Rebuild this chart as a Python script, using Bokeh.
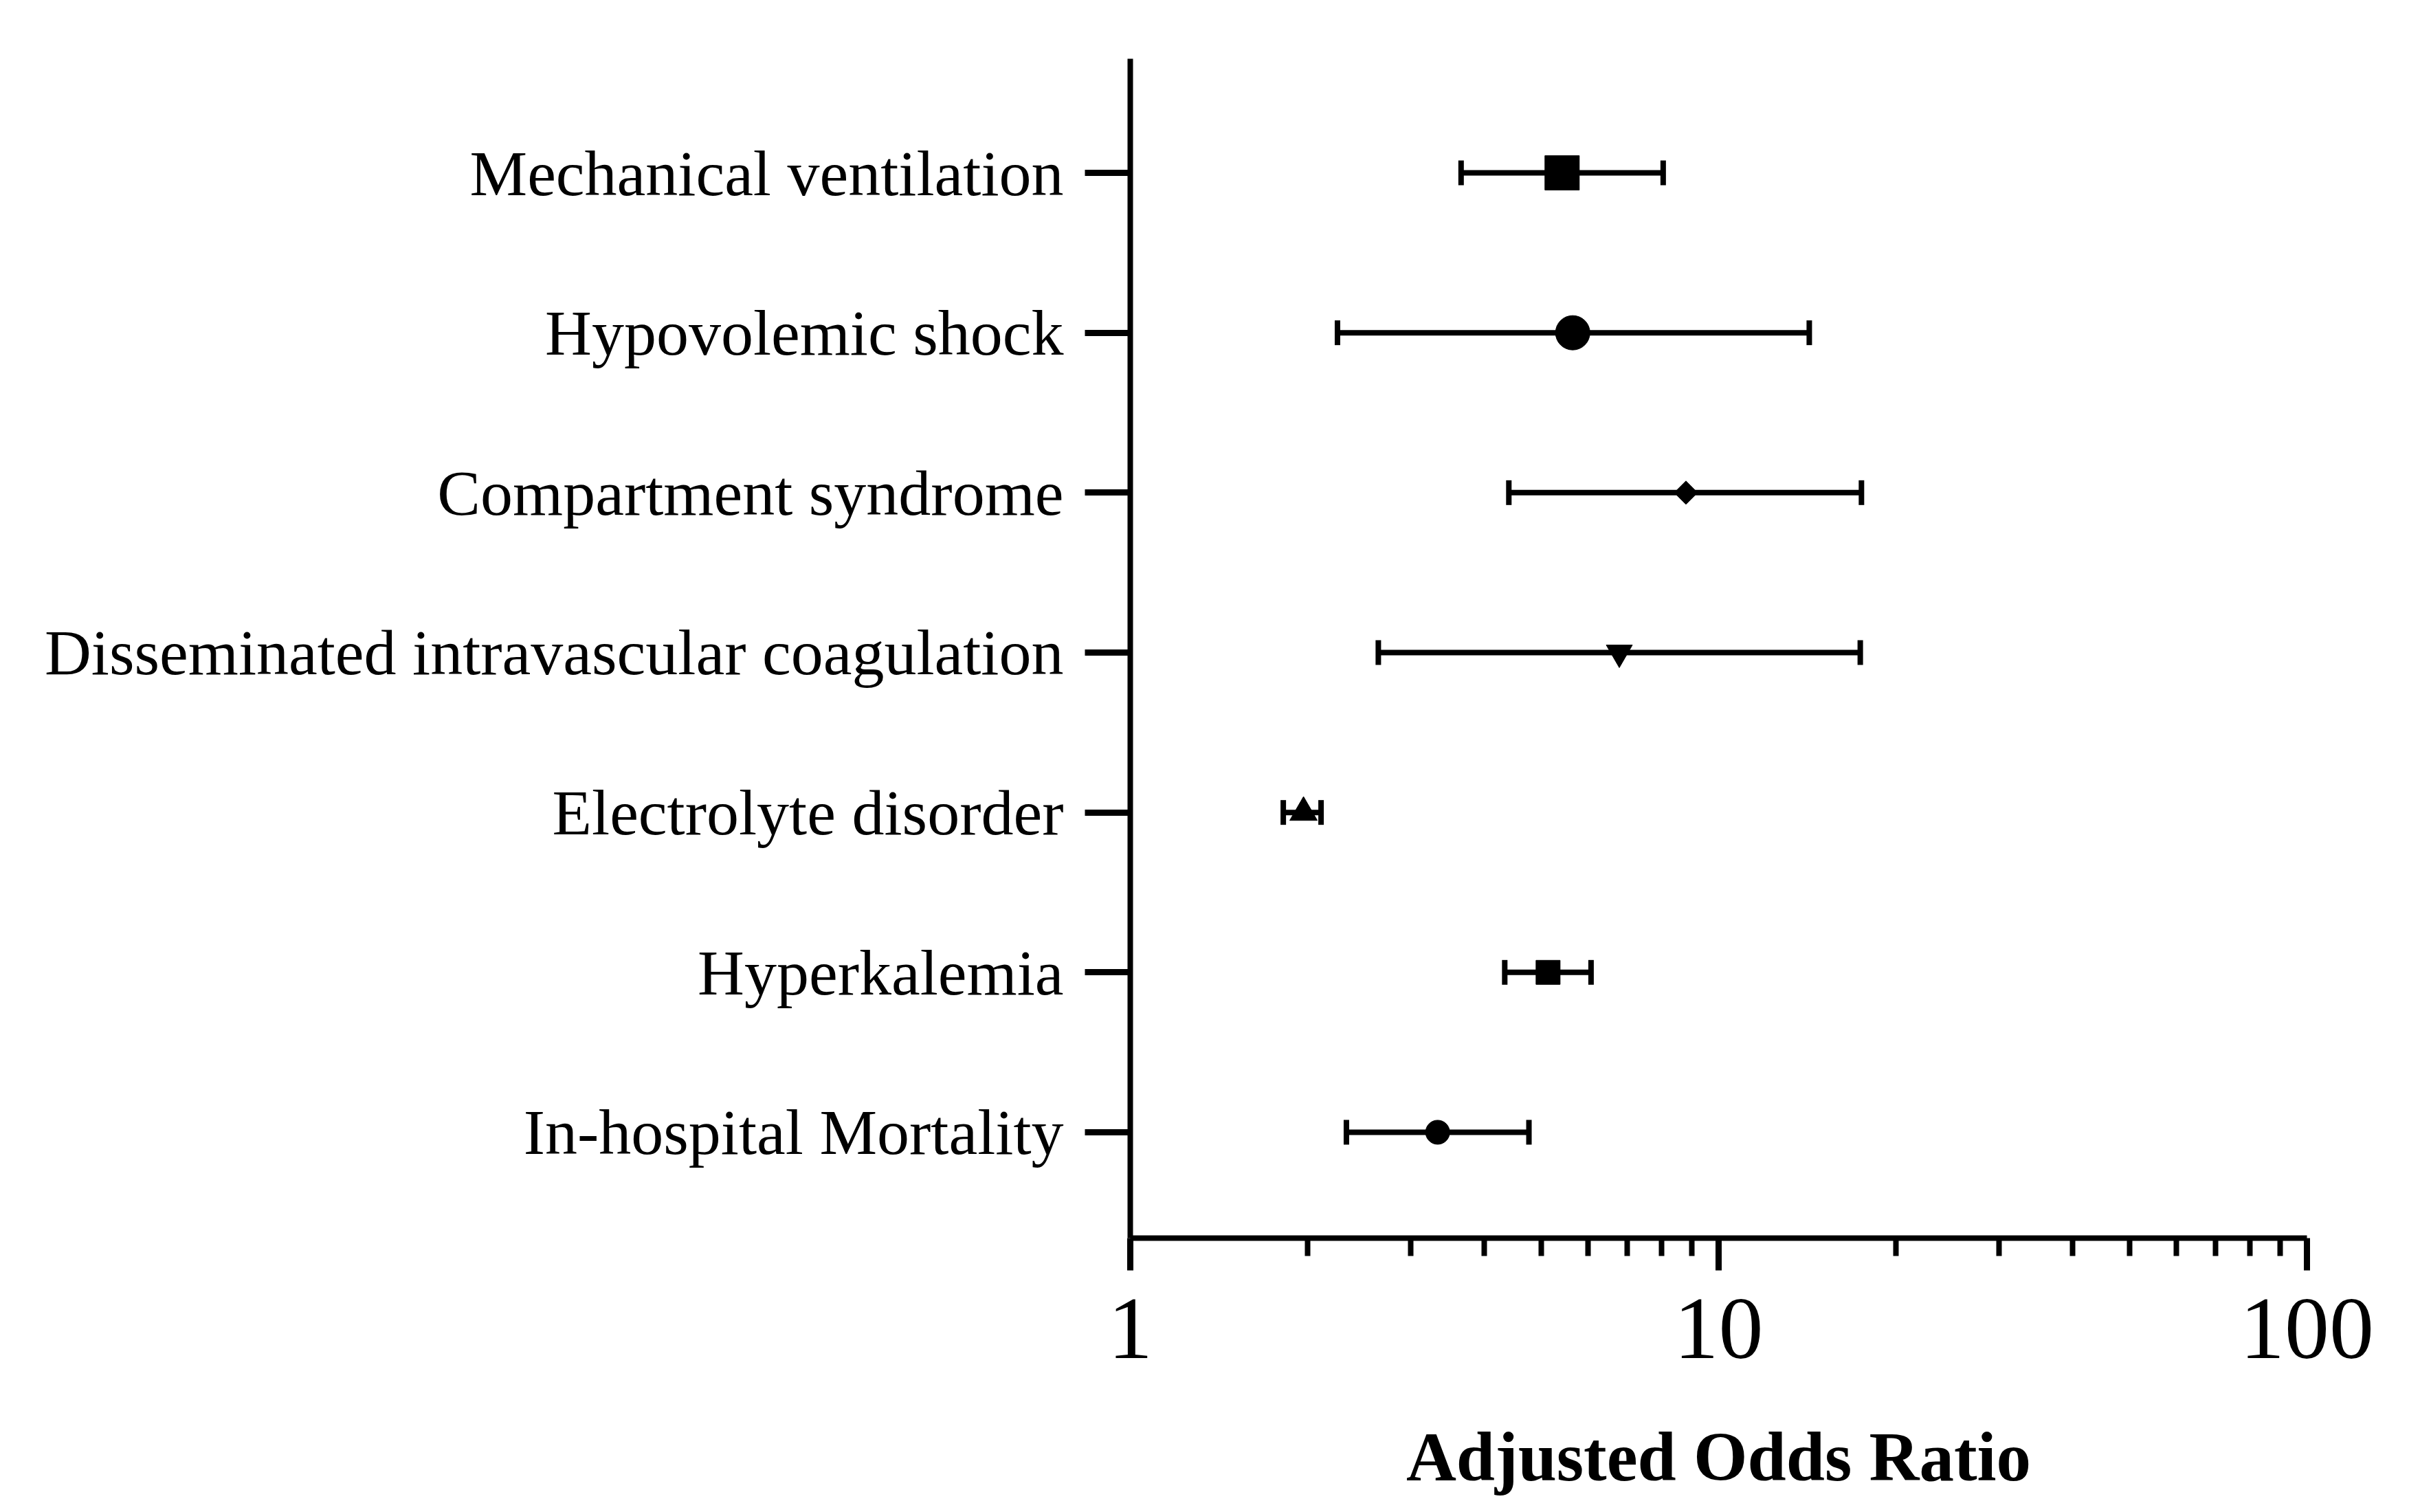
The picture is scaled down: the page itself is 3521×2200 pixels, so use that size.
import math
from bokeh.plotting import figure
from bokeh.models import Range1d, FixedTicker, Whisker, TeeHead, ColumnDataSource
from bokeh.embed import file_html
from bokeh.resources import INLINE

# ---- data ----
categories = [
    "Mechanical ventilation",
    "Hypovolemic shock",
    "Compartment syndrome",
    "Disseminated intravascular coagulation",
    "Electrolyte disorder",
    "Hyperkalemia",
    "In-hospital Mortality",
]
aor = [5.42, 5.65, 8.80, 6.78, 1.97, 5.13, 3.33]
ci_lower = [3.65, 2.25, 4.40, 2.64, 1.82, 4.33, 2.33]
ci_upper = [8.05, 14.26, 17.49, 17.41, 2.11, 6.07, 4.76]
x_major_ticks = [1, 10, 100]
x_minor_ticks = [2, 3, 4, 5, 6, 7, 8, 9, 20, 30, 40, 50, 60, 70, 80, 90]
x_title = "Adjusted Odds Ratio"

# ---- styles ----
marker_types = ["square", "circle", "square", "inverted_triangle", "triangle", "square", "circle"]
marker_sizes = [50, 50, 24, 38, 40, 35, 35]
marker_angles = [0, 0, math.pi / 4, 0, 0, 0, 0]

n = len(categories)
ypos = [n - i for i in range(n)]

FONT = "Liberation Serif"

FRAME_TOP, FRAME_BOTTOM = 85, 1801
H = 2192

p = figure(
    width=3505, height=H,
    x_axis_type="log",
    x_range=Range1d(1, 100),
    y_range=Range1d(0.338, 7.7135),
    output_backend="svg",
    toolbar_location=None,
    min_border_left=1644, min_border_right=149,
    min_border_top=FRAME_TOP, min_border_bottom=H - FRAME_BOTTOM,
)
p.background_fill_color = "white"
p.border_fill_color = "white"
p.outline_line_color = None
p.xgrid.visible = False
p.ygrid.visible = False

src = ColumnDataSource(dict(y=ypos, aor=aor, lo=ci_lower, hi=ci_upper,
                            marker=marker_types, size=marker_sizes, angle=marker_angles))

w = Whisker(source=src, base="y", lower="lo", upper="hi", dimension="width",
            line_width=8, line_color="black",
            lower_head=TeeHead(size=36, line_width=8, line_color="black"),
            upper_head=TeeHead(size=36, line_width=8, line_color="black"))
p.add_layout(w)

p.scatter(x="aor", y="y", source=src, marker="marker", size="size", angle="angle",
          fill_color="black", line_color="black", line_width=1)

# x axis
xa = p.xaxis[0]
xa.ticker = FixedTicker(ticks=x_major_ticks, minor_ticks=x_minor_ticks)
xa.major_label_overrides = {1: "1", 10: "10", 100: "100"}
xa.axis_line_width = 8
xa.axis_line_color = "black"
xa.major_tick_line_width = 9
xa.minor_tick_line_width = 8
xa.major_tick_line_color = "black"
xa.minor_tick_line_color = "black"
xa.major_tick_in = 0
xa.major_tick_out = 47
xa.minor_tick_in = 0
xa.minor_tick_out = 26
xa.major_label_standoff = 42
xa.major_label_text_font = FONT
xa.major_label_text_font_size = "130px"
xa.major_label_text_color = "black"
xa.axis_label = x_title
xa.axis_label_text_font = FONT
xa.axis_label_text_font_style = "bold"
xa.axis_label_text_font_size = "101px"
xa.axis_label_text_color = "black"
xa.axis_label_standoff = 85

# y axis
ya = p.yaxis[0]
ya.ticker = FixedTicker(ticks=ypos, minor_ticks=[])
ya.major_label_overrides = {int(y): c for y, c in zip(ypos, categories)}
ya.axis_line_width = 8
ya.axis_line_color = "black"
ya.major_tick_line_width = 9
ya.major_tick_line_color = "black"
ya.major_tick_in = 0
ya.major_tick_out = 66
ya.minor_tick_line_color = None
ya.major_label_standoff = 31
ya.major_label_text_font = FONT
ya.major_label_text_font_size = "94px"
ya.major_label_text_color = "black"

open("out.html", "w").write(file_html(p, INLINE))
